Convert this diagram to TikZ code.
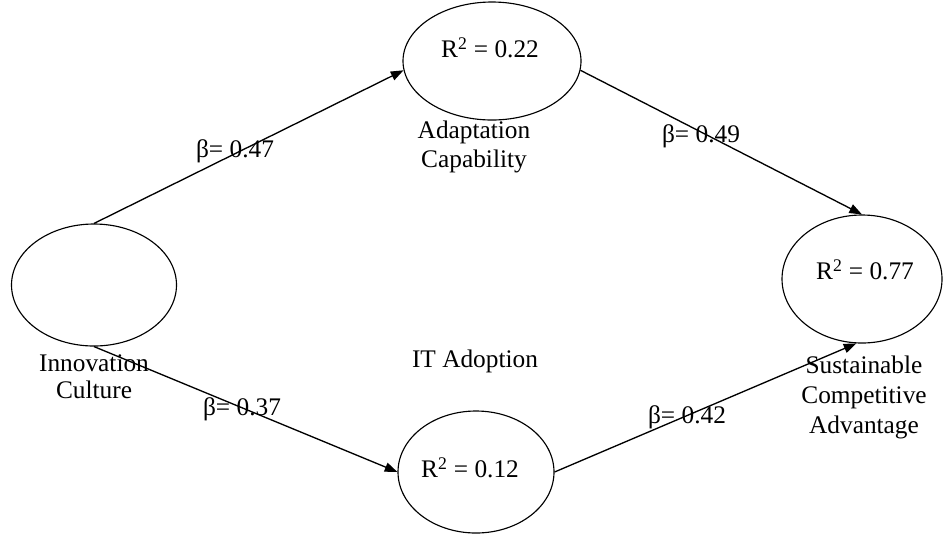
\documentclass[tikz,border=0pt]{standalone}
\usepackage{fontspec}
\setmainfont{Liberation Serif}
\usetikzlibrary{shapes.geometric,arrows.meta}
\begin{document}
\begin{tikzpicture}[x=0.75pt,y=-0.75pt,
  latent/.style={draw,ellipse,line width=0.85pt,inner sep=0pt},
  txt/.style={font=\fontsize{19}{21.5}\selectfont,inner sep=0pt,align=center},
  path/.style={line width=1pt,-{Triangle[length=9.5pt,width=7pt]}}]
\useasboundingbox (0,0) rectangle (944,533);
% latent variables
\node[latent,minimum width=165*0.75pt,minimum height=122*0.75pt] (ic) at (94,285) {};
\node[latent,minimum width=178*0.75pt,minimum height=118*0.75pt] (ac) at (492,61) {};
\node[latent,minimum width=156*0.75pt,minimum height=122*0.75pt] (it) at (476,472) {};
\node[latent,minimum width=160*0.75pt,minimum height=128*0.75pt] (sc) at (862,279) {};
% R-squared values
\node[txt] (acr) at (490,48) {R\textsuperscript{2} = 0.22};
\node[txt] (itr) at (470,468) {R\textsuperscript{2} = 0.12};
\node[txt] (scr) at (865,270) {R\textsuperscript{2} = 0.77};
% construct names
\node[txt,font=\fontsize{19}{20.5}\selectfont] (icl) at (94,377) {Innovation\\Culture};
\node[txt] (acl) at (474,147) {Adaptation\\Capability};
\node[txt] (itl) at (475,361) {IT Adoption};
\node[txt,font=\fontsize{19}{22.5}\selectfont] (scl) at (864,397) {Sustainable\\Competitive\\Advantage};
% paths
\draw[path] (ic.north) -- (ac.186);
\draw[path] (ac.354) -- (sc.north);
\draw[path] (ic.south) -- (it.west);
\draw[path] (it.east) -- (sc.265);
% coefficients
\node[txt] (b1) at (235,151) {β= 0.47};
\node[txt] (b2) at (701,136) {β= 0.49};
\node[txt] (b3) at (242,409) {β= 0.37};
\node[txt] (b4) at (687,417) {β= 0.42};
\end{tikzpicture}
\end{document}
